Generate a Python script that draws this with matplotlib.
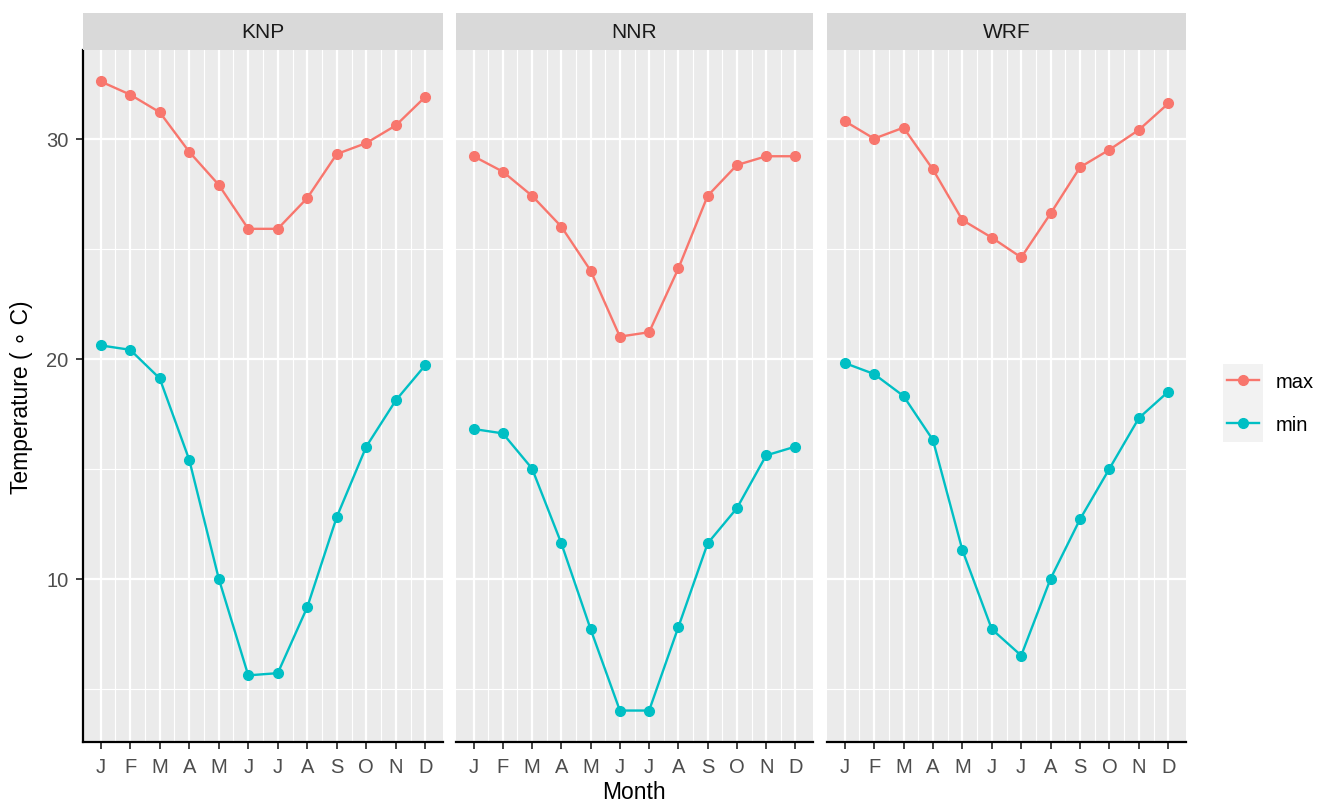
import numpy as np
import matplotlib
matplotlib.use("Agg")
import matplotlib.pyplot as plt
from matplotlib.patches import Rectangle

plt.rcParams["font.family"] = ["Liberation Sans", "DejaVu Sans"]

# data
months = ["J", "F", "M", "A", "M", "J", "J", "A", "S", "O", "N", "D"]
sites = ["KNP", "NNR", "WRF"]

knp_max = [32.6, 32.0, 31.2, 29.4, 27.9, 25.9, 25.9, 27.3, 29.3, 29.8, 30.6, 31.9]
knp_min = [20.6, 20.4, 19.1, 15.4, 10.0, 5.6, 5.7, 8.7, 12.8, 16.0, 18.1, 19.7]
nnr_max = [29.2, 28.5, 27.4, 26.0, 24.0, 21.0, 21.2, 24.1, 27.4, 28.8, 29.2, 29.2]
nnr_min = [16.8, 16.6, 15.0, 11.6, 7.7, 4.0, 4.0, 7.8, 11.6, 13.2, 15.6, 16.0]
wrf_max = [30.8, 30.0, 30.5, 28.6, 26.3, 25.5, 24.6, 26.6, 28.7, 29.5, 30.4, 31.6]
wrf_min = [19.8, 19.3, 18.3, 16.3, 11.3, 7.7, 6.5, 10.0, 12.7, 15.0, 17.3, 18.5]

series_max = [knp_max, nnr_max, wrf_max]
series_min = [knp_min, nnr_min, wrf_min]

red = "#F8766D"
teal = "#00BFC4"

W, H = 1327, 804
fig = plt.figure(figsize=(W / 100, H / 100), dpi=100)

# panel pixel boxes (left, right)
panels = [(83, 443), (456, 813), (827, 1186)]
top, bottom = 51, 743
strip_top = 14

x = np.arange(1, 13)
allv = knp_max + knp_min + nnr_max + nnr_min + wrf_max + wrf_min
lo, hi = min(allv), max(allv)
pad = (hi - lo) * 0.05

axes = []
for i, (l, r) in enumerate(panels):
    ax = fig.add_axes([l / W, (H - bottom) / H, (r - l) / W, (bottom - top) / H])
    ax.set_facecolor("#EBEBEB")
    ax.set_xlim(0.4, 12.6)
    ax.set_ylim(lo - pad, hi + pad)

    # grid
    ax.set_xticks(x)
    ax.set_xticks(np.arange(1.5, 12.5, 1), minor=True)
    ax.set_yticks([10, 20, 30])
    ax.set_yticks([5, 15, 25], minor=True)
    ax.grid(which="major", color="white", linewidth=1.6)
    ax.grid(which="minor", color="white", linewidth=0.8)
    ax.set_axisbelow(True)

    ax.plot(x, series_max[i], color=red, linewidth=1.7, marker="o", markersize=7,
            label="max")
    ax.plot(x, series_min[i], color=teal, linewidth=1.7, marker="o", markersize=7,
            label="min")

    for s in ["top", "right"]:
        ax.spines[s].set_visible(False)
    ax.spines["bottom"].set_color("black")
    ax.spines["bottom"].set_linewidth(1.6)
    if i == 0:
        ax.spines["left"].set_color("black")
        ax.spines["left"].set_linewidth(1.6)
        ax.set_yticklabels(["10", "20", "30"])
    else:
        ax.spines["left"].set_visible(False)
        ax.tick_params(axis="y", which="both", left=False, labelleft=False)

    ax.set_xticklabels(months)
    ax.tick_params(which="major", length=5, width=1.3, color="#333333",
                   labelcolor="#4D4D4D", labelsize=14.5, pad=5.5)
    ax.tick_params(which="minor", length=0)

    # strip
    sax = fig.add_axes([l / W, (H - top) / H, (r - l) / W, (top - strip_top) / H])
    sax.set_facecolor("#D9D9D9")
    sax.set_xticks([])
    sax.set_yticks([])
    for s in sax.spines.values():
        s.set_visible(False)
    sax.text(0.5, 0.5, sites[i], ha="center", va="center", fontsize=15,
             color="#1A1A1A", transform=sax.transAxes)
    axes.append(ax)

fig.text(634 / W, 1 - 793 / H, "Month", ha="center", va="center", fontsize=16.5)
fig.text(22 / W, 1 - 397 / H, "Temperature ( \u2218 C)", ha="center", va="center",
         fontsize=16.5, rotation=90)

# legend with grey key background
fig.patches.append(Rectangle((1223 / W, 1 - 443 / H), 40 / W, 78 / H,
                             transform=fig.transFigure, facecolor="#F2F2F2",
                             edgecolor="none", zorder=0))
handles, labels = axes[0].get_legend_handles_labels()
fig.legend(handles, labels, loc="center left", bbox_to_anchor=(1227 / W, 1 - 404 / H),
           frameon=False, fontsize=14.5, handlelength=1.6, labelspacing=1.15,
           handletextpad=0.8, borderpad=0, borderaxespad=0)

fig.savefig("out.png", dpi=100)
